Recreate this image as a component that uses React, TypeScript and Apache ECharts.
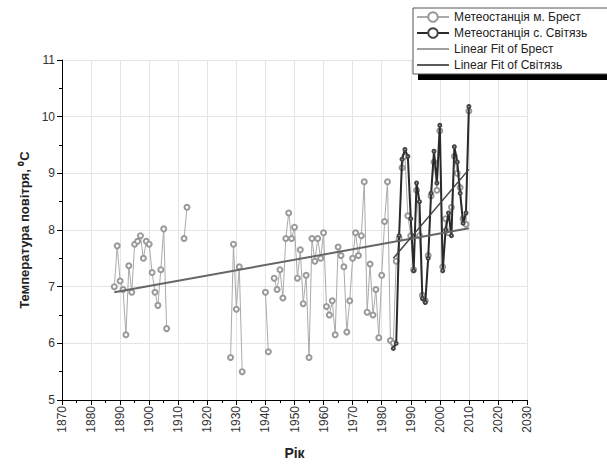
import { useEffect, useRef } from "react";
import * as echarts from "echarts";

const BREST_START = 1888;
// річні значення, null = немає спостережень
const BREST_TEMPS: (number | null)[] = [
  7.0, 7.72, 7.1, 6.95, 6.15, 7.37, 6.9, 7.75, 7.8, 7.9, // 1888-1897
  7.5, 7.8, 7.75, 7.25, 6.9, 6.67, 7.3, 8.02, 6.26, null, // 1898-1907
  null, null, null, null, 7.85, 8.4, null, null, null, null, // 1908-1917
  null, null, null, null, null, null, null, null, null, null, // 1918-1927
  5.75, 7.75, 6.6, 7.35, 5.5, null, null, null, null, null, // 1928-1937
  null, null, 6.9, 5.85, null, 7.15, 6.95, 7.3, 6.8, 7.85, // 1938-1947
  8.3, 7.85, 8.05, 7.15, 7.65, 6.7, 7.2, 5.75, 7.85, 7.45, // 1948-1957
  7.85, 7.5, 7.95, 6.65, 6.5, 6.75, 6.15, 7.7, 7.55, 7.35, // 1958-1967
  6.2, 6.75, 7.5, 7.95, 7.55, 7.9, 8.85, 6.55, 7.4, 6.5, // 1968-1977
  6.95, 6.1, 7.2, 8.15, 8.85, 6.05, 6.0, 7.45, 7.85, 9.1, // 1978-1987
  9.3, 8.25, 7.9, 7.3, 8.7, 7.9, 6.85, 6.75, 7.55, 8.6, // 1988-1997
  9.2, 8.7, 9.75, 7.35, 8.2, 7.95, 8.4, 9.3, 9.0, 8.75, // 1998-2007
  8.2, 8.1, 10.1, // 2008-2010
];

const SVITYAZ_START = 1984;
const SVITYAZ_TEMPS = [
  5.91, 6.0, 7.9, 9.25, 9.42, 9.3, 8.2, 7.28, 8.83, 8.5, // 1984-1993
  6.79, 6.72, 7.5, 8.65, 9.39, 8.83, 9.85, 7.28, 8.0, 8.3, // 1994-2003
  7.9, 9.47, 9.2, 8.65, 8.12, 8.3, 10.18, // 2004-2010
];

const BREST_FIT = [[1888, 6.9], [2010, 8.03]];
const SVITYAZ_FIT = [[1984, 7.5], [2010, 9.07]];

const NAMES = [
  "Метеостанція м. Брест",
  "Метеостанція с. Світязь",
  "Linear Fit of Брест",
  "Linear Fit of Світязь",
];

const FONT = "Liberation Sans, Arial, sans-serif";
const LINE_ICON = "path://M0,0H32V1.6H0Z";

export default function App() {
  const ref = useRef<HTMLDivElement>(null);

  useEffect(() => {
    if (!ref.current) return;
    const chart = echarts.init(ref.current, undefined, { renderer: "svg" });
    const brest = BREST_TEMPS.map((v, i) => [BREST_START + i, v]);
    const svityaz = SVITYAZ_TEMPS.map((v, i) => [SVITYAZ_START + i, v]);

    chart.setOption({
      animation: false,
      backgroundColor: "#fff",
      textStyle: { fontFamily: FONT },
      grid: { left: 62, top: 60, right: 80, bottom: 67 },
      legend: {
        orient: "vertical",
        left: 413,
        top: 8,
        padding: [3, 30, 3, 3],
        itemWidth: 32,
        itemHeight: 12,
        itemGap: 4,
        backgroundColor: "#fff",
        borderColor: "#555",
        borderWidth: 1,
        z: 5,
        textStyle: { fontSize: 12, color: "#222", fontFamily: FONT },
        data: [
          NAMES[0],
          NAMES[1],
          { name: NAMES[2], icon: LINE_ICON, itemStyle: { color: "#888" } },
          { name: NAMES[3], icon: LINE_ICON, itemStyle: { color: "#333" } },
        ],
      },
      graphic: [
        { type: "rect", z: 1, shape: { x: 418, y: 14, width: 200, height: 66 }, style: { fill: "#000" } },
      ],
      xAxis: {
        type: "value",
        min: 1870,
        max: 2030,
        interval: 10,
        name: "Рік",
        nameLocation: "middle",
        nameGap: 46,
        nameTextStyle: { fontSize: 14, fontWeight: "bold", color: "#222" },
        axisLine: { onZero: false, lineStyle: { color: "#000" } },
        axisTick: { length: 5, lineStyle: { color: "#000" } },
        minorTick: { show: true, splitNumber: 2, length: 3, lineStyle: { color: "#000" } },
        axisLabel: { rotate: 90, fontSize: 12, color: "#333", margin: 6, formatter: (v: number) => String(v) },
        splitLine: { show: true, lineStyle: { color: "#e4e4e4" } },
      },
      yAxis: {
        type: "value",
        min: 5,
        max: 11,
        interval: 1,
        name: "Температура повітря, ⁰C",
        nameLocation: "middle",
        nameGap: 28,
        nameTextStyle: { fontSize: 13, fontWeight: "bold", color: "#222" },
        axisLine: { show: true, lineStyle: { color: "#000" } },
        axisTick: { show: true, length: 5, lineStyle: { color: "#000" } },
        minorTick: { show: true, splitNumber: 2, length: 3, lineStyle: { color: "#000" } },
        axisLabel: { fontSize: 12, color: "#333", margin: 7 },
        splitLine: { show: true, lineStyle: { color: "#e4e4e4" } },
      },
      series: [
        {
          name: NAMES[0],
          type: "line",
          data: brest,
          connectNulls: false,
          symbol: "emptyCircle",
          symbolSize: 5,
          lineStyle: { color: "#aaa", width: 1 },
          itemStyle: { color: "#999", borderColor: "#999", borderWidth: 1 },
          z: 2,
        },
        {
          name: NAMES[1],
          type: "line",
          data: svityaz,
          symbol: "emptyCircle",
          symbolSize: 3,
          lineStyle: { color: "#2a2a2a", width: 2 },
          itemStyle: { color: "#444", borderColor: "#666", borderWidth: 1 },
          z: 3,
        },
        {
          name: NAMES[2],
          type: "line",
          data: BREST_FIT,
          showSymbol: false,
          symbol: "none",
          lineStyle: { color: "#666", width: 2 },
          itemStyle: { color: "#888" },
          z: 4,
        },
        {
          name: NAMES[3],
          type: "line",
          data: SVITYAZ_FIT,
          showSymbol: false,
          symbol: "none",
          lineStyle: { color: "#444", width: 1.5 },
          itemStyle: { color: "#333" },
          z: 4,
        },
      ],
    });

    return () => chart.dispose();
  }, []);

  return (
    <div
      ref={ref}
      style={{ position: "fixed", left: 0, top: 0, width: 607, height: 467 }}
    />
  );
}
